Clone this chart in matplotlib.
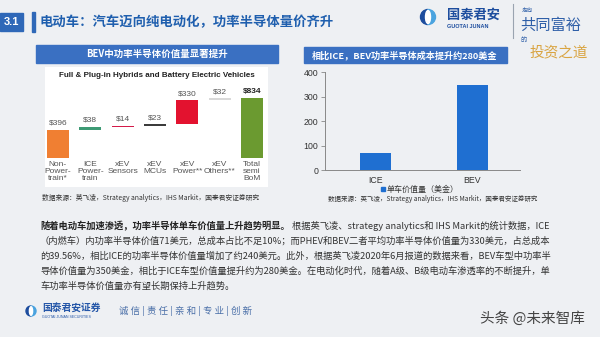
import matplotlib
matplotlib.use('Agg')
import matplotlib.pyplot as plt
from matplotlib.patches import Rectangle, Wedge, Ellipse

plt.rcParams['font.family'] = ['Noto Sans CJK SC', 'DejaVu Sans']

# ---- data ----
bom_cats = ['Non-\nPower-\ntrain*', 'ICE\nPower-\ntrain', 'xEV\nSensors', 'xEV\nMCUs',
            'xEV\nPower**', 'xEV\nOthers**', 'Total\nsemi\nBoM']
bom_vals = [396, 38, 14, 23, 330, 32, 834]
bom_colors = ['#f07f32', '#3d9a74', '#d41a4a', '#3c3c3c', '#e3122f', '#d9d9d9', '#6b9a30']

cost_cats = ['ICE', 'BEV']
cost_vals = [71, 350]
cost_ticks = [0, 100, 200, 300, 400]
cost_legend = '单车价值量（美金）'

source = '数据来源：英飞凌，Strategy analytics，IHS Markit，国泰君安证券研究'
head_title = '电动车：汽车迈向纯电动化，功率半导体量价齐升'
left_box = 'BEV中功率半导体价值量显著提升'
right_box = '相比ICE，BEV功率半导体成本提升约280美金'
body_bold = '随着电动车加速渗透，功率半导体单车价值量上升趋势明显。'
body_lines = [
    '根据英飞凌、strategy analytics和 IHS Markit的统计数据，ICE',
    '（内燃车）内功率半导体价值71美元，总成本占比不足10%；而PHEV和BEV二者平均功率半导体价值量为330美元，占总成本',
    '的39.56%，相比ICE的功率半导体价值量增加了约240美元。此外，根据英飞凌2020年6月报道的数据来看，BEV车型中功率半',
    '导体价值量为350美金，相比于ICE车型价值量提升约为280美金。在电动化时代，随着A级、B级电动车渗透率的不断提升，单',
    '车功率半导体价值量亦有望长期保持上升趋势。',
]

W, H = 600, 337
BLUE = '#2f68b8'
LAT = ['Liberation Sans', 'DejaVu Sans']

fig = plt.figure(figsize=(6, 3.37), dpi=100, facecolor='#eef0f3')
bg = fig.add_axes([0, 0, 1, 1])
bg.set_xlim(0, W)
bg.set_ylim(H, 0)
bg.axis('off')


def px_axes(x0, y0, x1, y1):
    return fig.add_axes([x0 / W, 1 - y1 / H, (x1 - x0) / W, (y1 - y0) / H])


# ---- header ----
bg.add_patch(Rectangle((0, 13), 23, 18, color=BLUE))
bg.text(11.5, 22, '3.1', color='white', fontsize=8, fontweight='bold', ha='center', va='center', family=LAT)
bg.add_patch(Rectangle((32, 12), 3, 20, color=BLUE))
bg.text(40, 22, head_title, color='#1f5fae', fontsize=9.6, fontweight='bold', va='center')

# company logo
bg.add_patch(Wedge((428, 17), 7.5, 90, 270, color='#1d4d9e'))
bg.add_patch(Wedge((428, 17), 7.5, 270, 90, color='#4aa3df'))
bg.add_patch(Ellipse((428, 17), 5, 13, color='white'))
bg.text(447, 15, '国泰君安', color='#1d4d9e', fontsize=9.5, fontweight='bold', va='center')
bg.text(447, 26, 'GUOTAI JUNAN', color='#1d4d9e', fontsize=4, fontweight='bold', va='center', family=LAT)
bg.plot([513, 513], [4, 38], color='#9aa4b0', lw=0.8)
bg.text(522, 10, '走向', color='#2f5fa8', fontsize=4, va='center')
bg.text(520, 25, '共同富裕', color='#2f5fa8', fontsize=11, va='center')
bg.text(520, 40, '的', color='#2f5fa8', fontsize=4.5, va='center')
bg.text(530, 52, '投资之道', color='#d9a441', fontsize=10.5, va='center')

# ---- left panel ----
bg.add_patch(Rectangle((36, 45), 242, 18, color='#3a70c2'))
bg.text(157, 54, left_box, color='white', fontsize=6.8, fontweight='bold', ha='center', va='center')

axl = px_axes(45, 67, 268, 187)
axl.set_facecolor('white')
bottoms = []
run = 0
for i, v in enumerate(bom_vals):
    if i == len(bom_vals) - 1:
        bottoms.append(0)
    else:
        bottoms.append(run)
        run += v
axl.bar(range(len(bom_vals)), bom_vals, bottom=bottoms, width=0.68, color=bom_colors)
for i, v in enumerate(bom_vals):
    bold = i == len(bom_vals) - 1
    axl.text(i, bottoms[i] + v + 40, f'${v}', ha='center', va='bottom', fontsize=6,
             color='#222222' if bold else '#555555', fontweight='bold' if bold else 'normal', family=LAT)
    axl.text(i, -40, bom_cats[i], ha='center', va='top', fontsize=6, color='#555555',
             linespacing=1.05, family=LAT)
axl.text(0.5, 0.933, 'Full & Plug-in Hybrids and Battery Electric Vehicles', transform=axl.transAxes,
         ha='center', va='center', fontsize=5.8, fontweight='bold', color='#222222', family=LAT)
axl.set_xlim(-0.4, 6.5)
axl.set_ylim(-403, 1265)
axl.set_xticks([])
axl.set_yticks([])
for s in axl.spines.values():
    s.set_visible(False)
bg.text(42, 198, source, fontsize=4.9, color='#333333', va='center')

# ---- right panel ----
bg.add_patch(Rectangle((304, 47), 203, 16, color='#3a70c2'))
bg.text(405, 55, right_box, color='white', fontsize=6.6, fontweight='bold', ha='center', va='center')

axr = px_axes(325, 72.3, 520, 170)
axr.set_facecolor('none')
axr.bar(range(len(cost_vals)), cost_vals, width=0.32, color='#1f6fd1')
axr.set_xlim(-0.52, 1.49)
axr.set_ylim(0, 400)
axr.set_yticks(cost_ticks)
axr.set_xticks(range(len(cost_cats)))
axr.set_xticklabels(cost_cats)
axr.tick_params(axis='y', length=3, width=0.6, color='#888888', labelsize=6.3, labelcolor='#333333', pad=2)
axr.tick_params(axis='x', length=0, labelsize=6.3, labelcolor='#333333', pad=4)
for lbl in axr.get_xticklabels() + axr.get_yticklabels():
    lbl.set_family(LAT)
for s in ['top', 'right']:
    axr.spines[s].set_visible(False)
for s in ['left', 'bottom']:
    axr.spines[s].set_color('#888888')
    axr.spines[s].set_linewidth(0.7)
bg.add_patch(Rectangle((381, 187), 4, 4, color='#1f6fd1'))
bg.text(387, 189, cost_legend, fontsize=5.8, color='#333333', va='center')
bg.text(328, 199, source, fontsize=4.7, color='#333333', va='center')

# ---- body text ----
fig.canvas.draw()
r = fig.canvas.get_renderer()
line_y = [226, 241, 256, 271, 286]
tb = bg.text(40, line_y[0], body_bold, fontsize=6.7, fontweight='bold', color='#222222', va='center')
x_end = tb.get_window_extent(renderer=r).x1  # pixels == data units in bg
bg.text(x_end + 2, line_y[0], body_lines[0], fontsize=6.7, color='#333333', va='center')
for y, line in zip(line_y[1:], body_lines[1:]):
    bg.text(40, y, line, fontsize=6.7, color='#333333', va='center')

# ---- footer ----
bg.add_patch(Wedge((31, 311), 5, 90, 270, color='#1d4d9e'))
bg.add_patch(Wedge((31, 311), 5, 270, 90, color='#4aa3df'))
bg.add_patch(Ellipse((31, 311), 3.2, 8.5, color='white'))
bg.text(42, 309, '国泰君安证券', color='#2456a8', fontsize=7, fontweight='bold', va='center')
bg.text(42, 317, 'GUOTAI JUNAN SECURITIES', color='#2456a8', fontsize=2.6, va='center', family=LAT)
bg.text(119, 311, '诚 信 | 责 任 | 亲 和 | 专 业 | 创 新', color='#4a6fa8', fontsize=6.8, va='center')
bg.text(480, 319, '头条 @未来智库', color='#444444', fontsize=10.5, va='center')

fig.savefig('out.png', dpi=100, facecolor=fig.get_facecolor())
